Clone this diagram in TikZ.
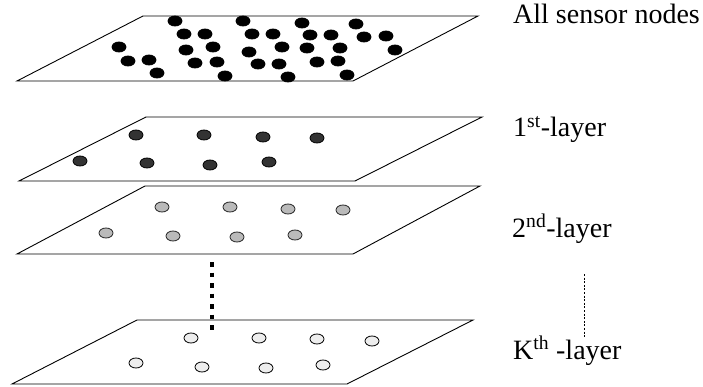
\documentclass[tikz,border=0pt]{standalone}
\usepackage{fontspec}
\setmainfont{Liberation Serif}
\usetikzlibrary{shapes.geometric}
\begin{document}
\begin{tikzpicture}[x=1pt,y=-1pt,
  plane/.style={draw=black,line width=0.9pt,fill=white},
  dot/.style={ellipse,inner sep=0pt,minimum width=14pt,minimum height=10pt,line width=0.8pt},
  dotA/.style={dot,fill=black,draw=black},
  dotB/.style={dot,fill=black!80,draw=black},
  dotC/.style={dot,fill=black!27,draw=black!85},
  dotD/.style={dot,fill=black!7,draw=black},
  lbl/.style={anchor=base west,inner sep=0pt,font=\fontsize{28}{30}\selectfont},
  sep/.style={line width=4.6pt,dash pattern=on 4.6pt off 5.9pt},
  thin/.style={line width=0.6pt,dash pattern=on 2pt off 1.6pt}]
\useasboundingbox (0,0) rectangle (703,387);
% planes
\draw[plane] (143,16) -- (478,16) -- (353,81) -- (17,81) -- cycle;
\draw[plane] (146,117) -- (482,117) -- (355,181) -- (19,181) -- cycle;
\draw[plane] (145,186) -- (480,186) -- (353,254) -- (17,254) -- cycle;
\draw[plane] (137,320) -- (473,320) -- (347,384) -- (12,384) -- cycle;
% all sensor nodes
\foreach \p [count=\i] in {(175,21),(243,21),(302,23),(356,24),(184,34),(205,34),(252,34),(273,34),(310,35),(331,35),(364,37),(386,36),(119,47),(186,50),(213,47),(249,52),(282,47),(307,48),(340,48),(395,50),(128,61),(149,60),(195,63),(217,62),(258,64),(279,64),(317,62),(338,61),(157,73),(225,76),(288,77),(347,75)}
  \node[dotA] (a\i) at \p {};
% 1st layer
\foreach \p [count=\i] in {(136,135),(204,135),(263,137),(317,138),(80,161),(147,163),(210,165),(269,162)}
  \node[dotB] (b\i) at \p {};
% 2nd layer
\foreach \p [count=\i] in {(162,207),(230,207),(288,209),(343,210),(106,233),(173,236),(237,237),(295,235)}
  \node[dotC] (c\i) at \p {};
% K-th layer
\foreach \p [count=\i] in {(191,338),(259,338),(317,339),(372,341),(136,363),(202,367),(266,368),(323,365)}
  \node[dotD] (d\i) at \p {};
% vertical dotted separator
\coordinate (s1) at (212,262);
\coordinate (s2) at (212,330);
\draw[sep] (s1) -- (s2);
% labels
\node[lbl] (l0) at (513,24) {All sensor nodes};
\node[lbl] (l1) at (513,137) {1\textsuperscript{st}-layer};
\node[lbl] (l2) at (512,237) {2\textsuperscript{nd}-layer};
\node[lbl] (lk) at (513,359) {K\textsuperscript{th} -layer};
\coordinate (t1) at (584,274);
\coordinate (t2) at (584,338);
\draw[thin] (t1) -- (t2);
\end{tikzpicture}
\end{document}
